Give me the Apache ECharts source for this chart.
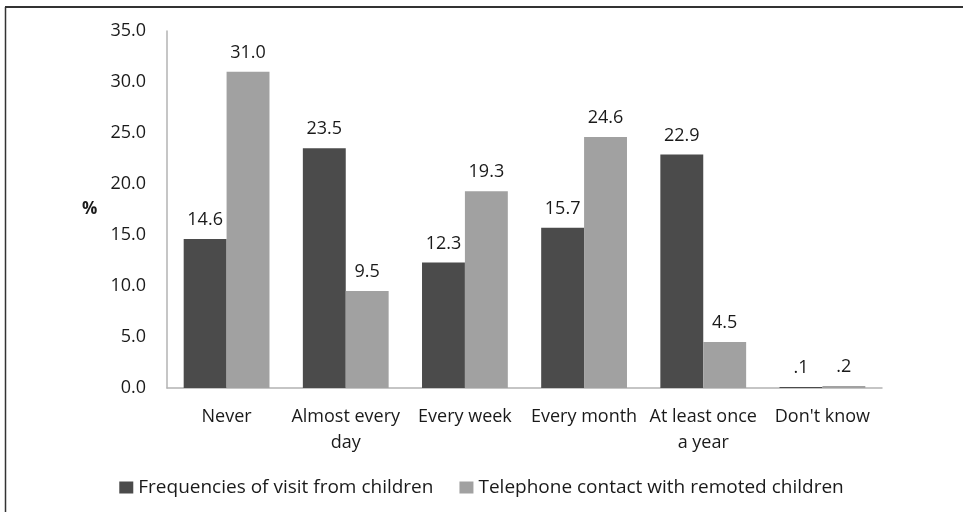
<!DOCTYPE html>
<html>
<head>
<meta charset="utf-8">
<script src="https://cdn.jsdelivr.net/npm/echarts@6/dist/echarts.min.js"></script>
<style>
  html, body { margin: 0; padding: 0; background: #fff; }
  #chart { width: 963px; height: 512px; }
</style>
</head>
<body>
<div id="chart"></div>
<script>
  // 数据
  var categories = ['Never', 'Almost every\nday', 'Every week', 'Every month', 'At least once\na year', "Don't know"];
  var visitData = [14.6, 23.5, 12.3, 15.7, 22.9, 0.1];
  var phoneData = [31.0, 9.5, 19.3, 24.6, 4.5, 0.2];
  var seriesNames = ['Frequencies of visit from children', 'Telephone contact with remoted children'];
  var colors = ['#4b4b4b', '#a1a1a1'];

  var font = 'Open Sans';
  var textColor = '#1a1a1a';
  var fs = 18;

  // 数据标签：去掉前导0（.1 .2）
  function fmtLabel(p) {
    var s = Number(p.value).toFixed(1);
    return s.charAt(0) === '0' ? s.substring(1) : s;
  }

  var series = [visitData, phoneData].map(function (d, i) {
    return {
      name: seriesNames[i],
      type: 'bar',
      data: d,
      barGap: '0%',
      barCategoryGap: '28%',
      itemStyle: { color: colors[i] },
      label: {
        show: true,
        position: 'top',
        distance: 10,
        formatter: fmtLabel,
        color: textColor,
        fontFamily: font,
        fontSize: fs
      }
    };
  });

  var option = {
    backgroundColor: '#fff',
    animation: false,
    grid: { left: 167, right: 81, top: 31, bottom: 124 },
    legend: {
      bottom: 10,
      left: 'center',
      itemWidth: 14,
      itemHeight: 12,
      itemGap: 26,
      icon: 'rect',
      textStyle: { color: textColor, fontFamily: font, fontSize: 19 },
      data: seriesNames
    },
    xAxis: {
      type: 'category',
      data: categories,
      axisTick: { show: false },
      axisLine: { lineStyle: { color: '#b3b3b3', width: 1.5 } },
      axisLabel: {
        color: textColor,
        fontFamily: font,
        fontSize: fs,
        margin: 16,
        lineHeight: 26,
        interval: 0
      }
    },
    yAxis: {
      type: 'value',
      min: 0,
      max: 35,
      interval: 5,
      splitLine: { show: false },
      axisTick: { show: false },
      axisLine: { show: true, lineStyle: { color: '#b3b3b3', width: 1.5 } },
      axisLabel: {
        color: textColor,
        fontFamily: font,
        fontSize: fs,
        margin: 21,
        formatter: function (v) { return v.toFixed(1); }
      }
    },
    graphic: [
      { type: 'line', shape: { x1: 5, y1: 7, x2: 963, y2: 7 }, style: { stroke: '#333', lineWidth: 2 } },
      { type: 'line', shape: { x1: 5.5, y1: 7, x2: 5.5, y2: 512 }, style: { stroke: '#333', lineWidth: 1.5 } },
      { type: 'text', left: 82, top: 201, style: { text: '%', font: 'bold 17px "Open Sans"', fill: textColor } }
    ],
    series: series
  };

  var chartObj = echarts.init(document.getElementById('chart'));
  chartObj.setOption(option, true);
</script>
</body>
</html>
